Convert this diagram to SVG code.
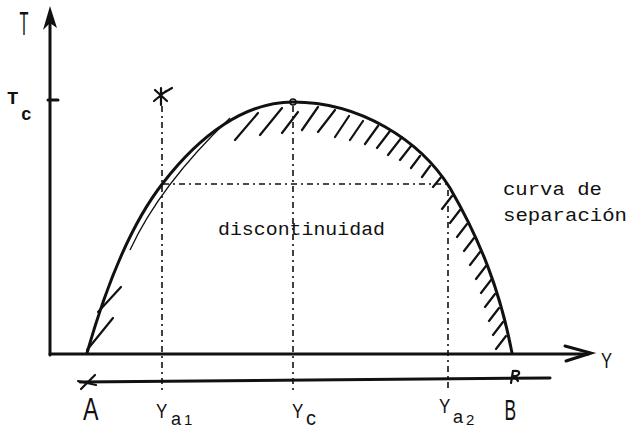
<svg xmlns="http://www.w3.org/2000/svg" width="629" height="433" viewBox="0 0 629 433">
<style>
.ax{stroke:#111;stroke-width:3;fill:none;stroke-linecap:round}
.cv{stroke:#111;stroke-width:3;fill:none;stroke-linecap:round}
.dd{stroke:#111;stroke-width:1.6;fill:none;stroke-dasharray:6 4 2 4}
.h{stroke:#111;stroke-width:2.2;fill:none;stroke-linecap:round}
.thin{stroke:#111;stroke-width:1.3;fill:none}
.mono{font-family:"Liberation Mono","DejaVu Sans Mono",monospace;fill:#111}
.sans{font-family:"Liberation Sans","DejaVu Sans",sans-serif;fill:#111}
</style>
<rect width="629" height="433" fill="#fff"/>
<g id="axes">
<line class="ax" x1="50" y1="14" x2="50" y2="355"/>
<path d="M50 6 L43 30 L50 23 L57 28 Z" fill="#111"/>
<line class="ax" x1="50" y1="354" x2="588" y2="354"/>
<path d="M565 346 L591 353 L566 361" class="ax" stroke-width="2.6"/>
<line class="ax" x1="48" y1="100" x2="58" y2="100" stroke-width="2"/>
<path d="M80 382 L550 378" class="ax" stroke-width="2.2"/>
</g>
<g id="markers">
<path class="h" d="M81 389 L95 375 M78 381 L96 385"/>
<path class="h" d="M155 90 L167 101 M160 95 L172 88 M154 101 L166 91 M161 88 L161 105"/>
<path class="h" d="M511 383 L513 371 Q520 370 519 374 Q517 377 512 376 M514 376 L518 381"/>
<circle cx="293" cy="102" r="3" fill="#fff" stroke="#111" stroke-width="1.6"/>
</g>
<g id="guides">
<line class="dd" x1="162" y1="106" x2="162" y2="390"/>
<line class="dd" x1="293" y1="106" x2="293" y2="392"/>
<line class="dd" x1="448" y1="190" x2="448" y2="388"/>
<line class="dd" x1="163" y1="184" x2="447" y2="184"/>
</g>
<g id="curve">
<path class="cv" d="M87 353 C105 290 130 225 163 183 C200 135 245 102 293 102 C360 102 420 140 450 188 C480 240 500 290 512 353"/>
</g>
<g id="hatching">
<path class="thin" d="M130 250 Q160 185 230 118"/>
<path class="h" d="M87 350 L113 318 M98 312 L121 287"/>
<path class="h" d="M235 140 L258 113 M260 135 L282 108 M282 133 L298 112 M302 130 L318 107 M318 132 L335 110 M335 137 L349 116 M350 140 L363 121 M365 144 L378 126 M377 148 L390 131 M388 155 L402 137 M400 160 L411 146 M411 168 L420 156 M422 177 L430 166 M433 187 L442 176"/>
<path class="h" d="M442 209 L452 196 M450 223 L460 210 M457 237 L467 224 M464 251 L474 238 M470 265 L480 252 M476 279 L486 266 M481 293 L491 280 M485 307 L495 294 M489 321 L499 308 M493 335 L503 322 M496 349 L506 336"/>
</g>
<g id="labels">
<text class="sans" transform="translate(19.5 35) scale(0.43 1)" font-size="34">T</text>
<text class="mono" x="7" y="104" font-size="19" font-weight="bold">T</text>
<text class="mono" x="21" y="120" font-size="18" font-weight="bold">c</text>
<text class="sans" transform="translate(601 368) scale(0.75 1)" font-size="22">Y</text>
<text class="sans" transform="translate(83 420) scale(0.75 1)" font-size="31">A</text>
<text class="sans" transform="translate(504.5 420) scale(0.58 1)" font-size="30">B</text>
<text class="sans" x="156" y="418" font-size="20" transform="translate(156 0) scale(0.85 1) translate(-156 0)">Y</text>
<text class="sans" x="171" y="425" font-size="18">a</text>
<text class="sans" x="184" y="425" font-size="15">1</text>
<text class="sans" x="292" y="418" font-size="20" transform="translate(292 0) scale(0.85 1) translate(-292 0)">Y</text>
<text class="sans" x="306" y="425" font-size="20">c</text>
<text class="sans" x="439" y="413" font-size="20" transform="translate(439 0) scale(0.85 1) translate(-439 0)">Y</text>
<text class="sans" x="453" y="423" font-size="18">a</text>
<text class="sans" x="466" y="425" font-size="15">2</text>
<text class="mono" x="218" y="235" font-size="19" textLength="167" lengthAdjust="spacingAndGlyphs">discontinuidad</text>
<text class="mono" x="503" y="195" font-size="19" textLength="99" lengthAdjust="spacingAndGlyphs">curva de</text>
<text class="mono" x="503" y="221" font-size="19" textLength="124" lengthAdjust="spacingAndGlyphs">separación</text>
</g>
</svg>
